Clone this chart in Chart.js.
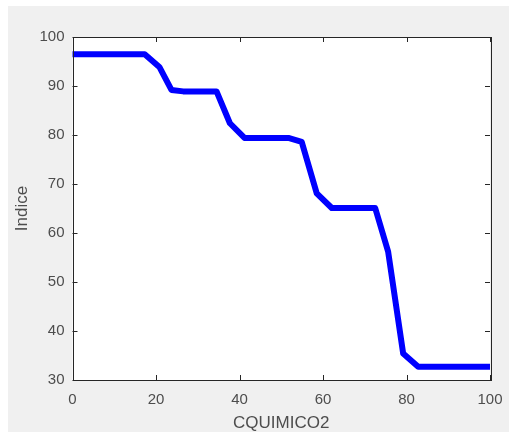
<!DOCTYPE html>
<html>
<head>
<meta charset="utf-8">
<script src="https://cdn.jsdelivr.net/npm/chart.js@4/dist/chart.umd.min.js"></script>
<style>
  html, body { margin: 0; padding: 0; background: #ffffff; }
  #fig { position: absolute; left: 8px; top: 6px; width: 501px; height: 426px; background: #f0f0f0; }
  #fig canvas { display: block; }
</style>
</head>
<body>
<div id="fig"><canvas id="chart" width="501" height="426"></canvas></div>
<script>
  // Curve (CQUIMICO2 vs Indice)
  const xValues = [0, 17.3, 20.8, 23.7, 26.5, 34.5, 37.7, 41.2, 51.7, 54.9, 58.5, 62.1, 72.5, 75.6, 79.2, 82.8, 100];
  const yValues = [96.5, 96.5, 93.9, 89.2, 88.9, 88.9, 82.4, 79.4, 79.4, 78.6, 68.1, 65.1, 65.1, 56.2, 35.4, 32.7, 32.7];
  const xTicks = [0, 20, 40, 60, 80, 100];
  const yTicks = [30, 40, 50, 60, 70, 80, 90, 100];

  const axisColor = '#262626';
  const textColor = '#4d4d4d';
  const fontFamily = "'Liberation Sans', Arial, sans-serif";

  // box around the axes with inward ticks on all four sides, MATLAB style
  const boxTicks = {
    id: 'boxTicks',
    afterDatasetsDraw(chart) {
      const {ctx, chartArea: a, scales} = chart;
      const len = 5;
      ctx.save();
      ctx.strokeStyle = axisColor;
      ctx.lineWidth = 1;
      ctx.beginPath();
      xTicks.forEach(v => {
        const px = Math.round(scales.x.getPixelForValue(v)) + 0.5;
        ctx.moveTo(px, a.bottom); ctx.lineTo(px, a.bottom - len);
        ctx.moveTo(px, a.top); ctx.lineTo(px, a.top + len);
      });
      yTicks.forEach(v => {
        const py = Math.round(scales.y.getPixelForValue(v)) + 0.5;
        ctx.moveTo(a.left, py); ctx.lineTo(a.left + len, py);
        ctx.moveTo(a.right, py); ctx.lineTo(a.right - len, py);
      });
      ctx.stroke();
      ctx.strokeRect(Math.round(a.left) + 0.5, Math.round(a.top) + 0.5,
        Math.round(a.right - a.left), Math.round(a.bottom - a.top));
      ctx.restore();
    }
  };

  const whiteArea = {
    id: 'whiteArea',
    beforeDraw(chart) {
      const {ctx, chartArea: a} = chart;
      ctx.save();
      ctx.fillStyle = '#ffffff';
      ctx.fillRect(a.left, a.top, a.right - a.left, a.bottom - a.top);
      ctx.restore();
    }
  };

  const points = xValues.map((x, i) => ({x: x, y: yValues[i]}));

  new Chart(document.getElementById('chart'), {
    type: 'scatter',
    data: {
      datasets: [{
        data: points,
        showLine: true,
        borderColor: '#0000ff',
        borderWidth: 6,
        pointRadius: 0,
        tension: 0,
        borderJoinStyle: 'round',
        clip: 3
      }]
    },
    options: {
      responsive: false,
      animation: false,
      plugins: { legend: { display: false }, tooltip: { enabled: false } },
      layout: { padding: { top: 31, right: 19, left: 0, bottom: 0 } },
      scales: {
        x: {
          type: 'linear',
          min: 0, max: 100,
          afterBuildTicks: s => { s.ticks = xTicks.map(v => ({value: v})); },
          afterFit: s => { s.height = 52; s.paddingLeft = 0; s.paddingRight = 0; },
          grid: { display: false, drawTicks: false },
          border: { display: false },
          ticks: { color: textColor, font: { family: fontFamily, size: 15 }, padding: 11, maxRotation: 0 },
          title: { display: true, text: 'CQUIMICO2', color: textColor, font: { family: fontFamily, size: 17, lineHeight: 1 }, padding: { top: 0, bottom: 0 } }
        },
        y: {
          type: 'linear',
          min: 30, max: 100,
          afterBuildTicks: s => { s.ticks = yTicks.map(v => ({value: v})); },
          afterFit: s => { s.width = 64.5; s.paddingTop = 0; s.paddingBottom = 0; },
          grid: { display: false, drawTicks: false },
          border: { display: false },
          ticks: { color: textColor, font: { family: fontFamily, size: 15 }, padding: 8 },
          title: { display: true, text: 'Indice', color: textColor, font: { family: fontFamily, size: 17 }, padding: { top: 4, bottom: 0 } }
        }
      }
    },
    plugins: [whiteArea, boxTicks]
  });
</script>
</body>
</html>
